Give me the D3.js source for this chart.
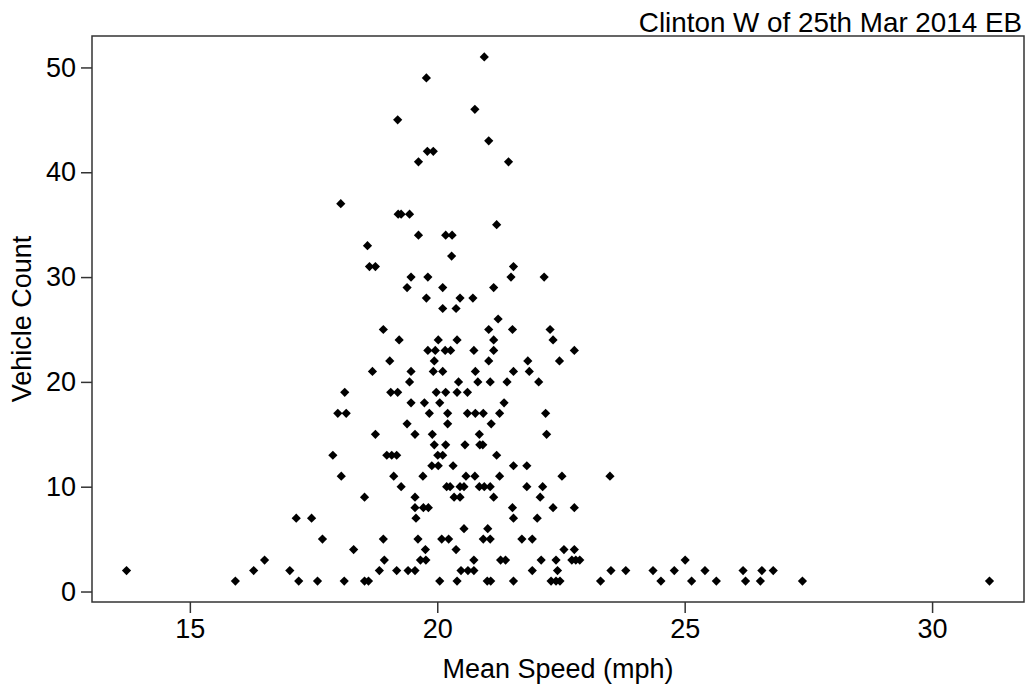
<!DOCTYPE html>
<html>
<head>
<meta charset="utf-8">
<script src="https://cdn.jsdelivr.net/npm/d3@7"></script>
<style>
  html, body { margin: 0; padding: 0; background: #fff; }
  svg { display: block; }
  text { font-family: "Liberation Sans", Arial, sans-serif; fill: #000; }
</style>
</head>
<body>
<svg id="chart" width="1026" height="685"></svg>
<script>
// ---- data ----
const chartTitle = "Clinton W of 25th Mar 2014 EB";
const xLabel = "Mean Speed (mph)";
const yLabel = "Vehicle Count";
const xTicks = [15, 20, 25, 30];
const yTicks = [0, 10, 20, 30, 40, 50];

// vehicle count levels and the mean speeds observed at each level
const countLevels = [1,2,3,4,5,6,7,8,9,10,11,12,13,14,15,16,17,18,19,20,21,22,23,24,25,26,27,28,29,30,31,32,33,34,35,36,37,41,42,43,45,46,49,51];
const speedsAtCount = [
  [15.92,17.20,17.58,18.12,18.53,18.61,20.05,20.40,21.01,21.08,21.54,22.30,22.40,22.48,23.30,24.52,25.14,25.64,26.23,26.53,27.38,31.16],
  [13.72,16.29,17.02,18.83,19.18,19.41,19.55,20.48,20.62,20.74,21.92,22.43,23.51,23.81,24.36,24.79,25.41,26.18,26.56,26.79],
  [16.51,18.93,19.66,19.77,20.74,21.28,21.38,22.10,22.40,22.72,22.80,22.88,25.01],
  [18.31,19.76,20.38,22.56,22.77],
  [17.68,18.91,19.61,20.09,20.23,20.93,21.07,21.71,21.92],
  [20.54,21.02],
  [17.15,17.46,19.57,21.54,22.02],
  [19.55,19.72,19.82,21.52,22.34,22.77],
  [18.53,19.55,20.34,20.46,21.14,22.08],
  [19.27,20.19,20.26,20.46,20.54,20.85,20.95,21.07,21.81,22.13],
  [18.06,19.12,19.71,20.58,20.76,21.26,22.52,23.49],
  [19.89,20.02,20.32,21.54,21.81],
  [17.89,18.98,19.08,19.18,20.01,20.11,21.20],
  [19.94,20.17,20.56,20.86,20.92],
  [18.75,19.55,19.90,20.85,22.21],
  [19.39,20.21,21.09],
  [17.99,18.16,19.84,20.21,20.61,20.77,20.93,21.26,22.19],
  [19.47,19.74,20.05,21.35],
  [18.13,19.06,19.20,19.98,20.17,20.40,20.61],
  [19.44,20.43,20.82,21.07,21.41,22.05],
  [18.69,19.47,19.92,20.11,20.77,21.54,21.86],
  [19.04,19.94,21.04,21.83,22.47],
  [19.81,19.96,20.16,20.27,20.74,21.14,22.77],
  [19.23,20.02,20.40,21.14,22.34],
  [18.91,21.04,21.52,22.28],
  [21.23],
  [20.11,20.38],
  [19.78,20.46,20.72],
  [19.39,20.11,21.14],
  [19.47,19.81,21.49,22.16],
  [18.63,18.75,21.54],
  [20.29],
  [18.59],
  [19.62,20.17,20.30],
  [21.20],
  [19.21,19.27,19.44],
  [18.05],
  [19.62,21.44],
  [19.80,19.92],
  [21.04],
  [19.20],
  [20.76],
  [19.78],
  [20.95]
];

// flatten into points
const points = [];
countLevels.forEach((c, i) => speedsAtCount[i].forEach(s => points.push({speed: s, count: c})));

// ---- layout ----
const plot = {left: 92, right: 1024, top: 36, bottom: 602};
const fontSize = 27;
const axisColor = "#333";

// R-style 4% axis expansion
function expand(ext) { const r = ext[1] - ext[0]; return [ext[0] - 0.04 * r, ext[1] + 0.04 * r]; }
const x = d3.scaleLinear().domain(expand(d3.extent(points, d => d.speed))).range([plot.left, plot.right]);
const y = d3.scaleLinear().domain(expand(d3.extent(points, d => d.count))).range([plot.bottom, plot.top]);

const svg = d3.select("#chart");

// box
svg.append("rect")
  .attr("x", plot.left).attr("y", plot.top)
  .attr("width", plot.right - plot.left).attr("height", plot.bottom - plot.top)
  .attr("fill", "none").attr("stroke", axisColor).attr("stroke-width", 1.5);

// x axis
const xAxis = svg.append("g").attr("transform", `translate(0,${plot.bottom})`)
  .call(d3.axisBottom(x).tickValues(xTicks).tickSize(11).tickPadding(6).tickFormat(d3.format("d")));
xAxis.select(".domain").remove();
xAxis.selectAll("line").attr("stroke", axisColor).attr("stroke-width", 1.5);
xAxis.selectAll("text").attr("font-size", fontSize).attr("font-family", "Liberation Sans, Arial, sans-serif").attr("fill", "#000");

// y axis
const yAxis = svg.append("g").attr("transform", `translate(${plot.left},0)`)
  .call(d3.axisLeft(y).tickValues(yTicks).tickSize(11).tickPadding(5).tickFormat(d3.format("d")));
yAxis.select(".domain").remove();
yAxis.selectAll("line").attr("stroke", axisColor).attr("stroke-width", 1.5);
yAxis.selectAll("text").attr("font-size", fontSize).attr("font-family", "Liberation Sans, Arial, sans-serif").attr("fill", "#000");

// points: filled diamonds (R pch 18)
const r = 4.6;
svg.append("g").selectAll("path").data(points).join("path")
  .attr("d", d => {
    const cx = x(d.speed), cy = y(d.count);
    return `M${cx},${cy - r}L${cx + r},${cy}L${cx},${cy + r}L${cx - r},${cy}Z`;
  })
  .attr("fill", "#000");

// title (top right)
svg.append("text").attr("x", 1022).attr("y", 32).attr("text-anchor", "end")
  .attr("font-size", 27.8).text(chartTitle);

// axis labels
svg.append("text").attr("x", (plot.left + plot.right) / 2).attr("y", 678).attr("text-anchor", "middle")
  .attr("font-size", fontSize).text(xLabel);
svg.append("text").attr("transform", `translate(31,${(plot.top + plot.bottom) / 2}) rotate(-90)`)
  .attr("text-anchor", "middle").attr("font-size", fontSize).text(yLabel);
</script>
</body>
</html>
